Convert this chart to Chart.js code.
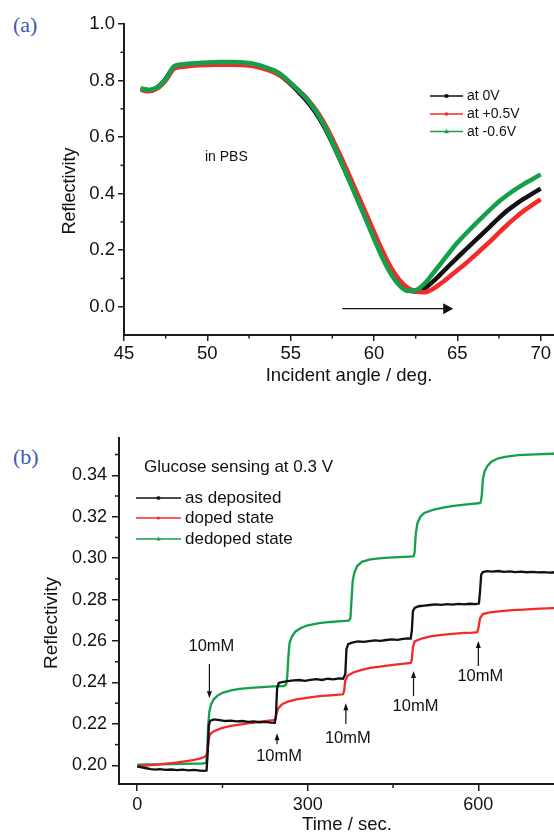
<!DOCTYPE html>
<html>
<head>
<meta charset="utf-8">
<script src="https://cdn.jsdelivr.net/npm/chart.js@4/dist/chart.umd.min.js"></script>
<style>
html,body{margin:0;padding:0;background:#fff;overflow:hidden;width:554px;height:834px;}
#ca{position:absolute;left:0;top:0;}
#cb{position:absolute;left:0;top:400px;}
.panel{position:absolute;font-family:"Liberation Serif","Times New Roman",serif;font-size:22px;line-height:22px;color:#3b5ca8;}
</style>
</head>
<body>
<div class="panel" style="left:13px;top:14px;">(a)</div>
<div class="panel" style="left:13px;top:446px;">(b)</div>
<canvas id="ca" width="600" height="400"></canvas>
<canvas id="cb" width="600" height="450"></canvas>
<script>
// ================= Panel (a): SPR curves =================
const angles = [46,46.5,47,47.5,48,48.5,49,49.5,50,50.5,
  51,51.5,52,52.5,53,53.5,54,54.5,55,55.5,
  56,56.5,57,57.5,58,58.5,59,59.5,60,60.5,
  61,61.5,62,62.5,63,63.5,64,64.5,65,65.5,
  66,66.5,67,67.5,68,68.5,69,69.5,70];
const reflect0V = [0.771,0.766,0.776,0.806,0.848,0.855,0.858,0.860,0.861,0.862,
  0.862,0.862,0.861,0.858,0.852,0.843,0.831,0.813,0.787,0.758,
  0.726,0.686,0.638,0.579,0.515,0.450,0.384,0.317,0.250,0.184,
  0.127,0.085,0.060,0.054,0.064,0.087,0.115,0.145,0.174,0.202,
  0.230,0.258,0.286,0.314,0.340,0.362,0.382,0.400,0.418];
const reflectPos05V = [0.767,0.762,0.772,0.800,0.842,0.849,0.852,0.854,0.855,0.856,
  0.856,0.856,0.855,0.853,0.848,0.840,0.829,0.813,0.790,0.764,
  0.735,0.697,0.651,0.594,0.532,0.467,0.400,0.333,0.265,0.199,
  0.140,0.097,0.068,0.055,0.051,0.062,0.082,0.105,0.129,0.153,
  0.179,0.206,0.233,0.262,0.290,0.316,0.340,0.360,0.380];
const reflectNeg06V = [0.772,0.767,0.776,0.805,0.850,0.857,0.860,0.862,0.864,0.865,
  0.866,0.866,0.865,0.862,0.856,0.847,0.836,0.818,0.792,0.764,
  0.733,0.692,0.643,0.582,0.516,0.448,0.379,0.310,0.240,0.173,
  0.117,0.077,0.056,0.058,0.080,0.115,0.152,0.190,0.226,0.258,
  0.288,0.317,0.345,0.372,0.395,0.416,0.434,0.451,0.468];
const aSeriesNames = ['at 0V', 'at +0.5V', 'at -0.6V'];
const aXTicks = [45, 50, 55, 60, 65, 70];
const aXMinor = [47.5, 52.5, 57.5, 62.5, 67.5];
const aYTicks = [0.0, 0.2, 0.4, 0.6, 0.8, 1.0];
const aYMinor = [0.1, 0.3, 0.5, 0.7, 0.9];
const aShiftArrow = [[58.1, -0.007], [64.75, -0.007]]; // angle, reflectivity
const aNote = 'in PBS';

// ================= Panel (b): glucose sensing =================
const asDeposited = [[0,0.1995],[8,0.1990],[16,0.1986],[24,0.1982],[32,0.1979],[40,0.1982],[50,0.1978],[60,0.1980],[70,0.1977],[80,0.1979],
  [90,0.1976],[100,0.1978],[110,0.1975],[118,0.1973],[122,0.1975],[124,0.2060],[126,0.2190],[128,0.2215],[135,0.2222],[145,0.2218],
  [155,0.2214],[165,0.2216],[175,0.2212],[185,0.2214],[195,0.2210],[205,0.2212],[215,0.2208],[225,0.2210],[235,0.2206],[242,0.2205],
  [244,0.2240],[246,0.2370],[249,0.2398],[255,0.2402],[265,0.2406],[275,0.2410],[285,0.2412],[295,0.2408],[305,0.2413],[315,0.2416],
  [325,0.2412],[335,0.2418],[345,0.2415],[355,0.2420],[362,0.2418],[366,0.2440],[368,0.2560],[371,0.2585],[378,0.2592],[388,0.2598],
  [398,0.2596],[408,0.2600],[418,0.2603],[428,0.2601],[438,0.2605],[448,0.2608],[458,0.2606],[468,0.2610],[476,0.2613],[481,0.2612],
  [483,0.2650],[485,0.2745],[488,0.2760],[495,0.2768],[505,0.2771],[515,0.2774],[525,0.2777],[535,0.2775],[545,0.2778],[555,0.2776],
  [565,0.2779],[575,0.2777],[585,0.2780],[595,0.2778],[601,0.2781],[603,0.2840],[605,0.2920],[608,0.2933],[615,0.2937],[625,0.2935],
  [635,0.2938],[645,0.2934],[655,0.2936],[665,0.2933],[675,0.2935],[685,0.2932],[695,0.2934],[705,0.2931],[715,0.2933],[725,0.2930],
  [735,0.2932],[745,0.2930],[755,0.2931]];
const dopedState = [[0,0.1995],[10,0.1998],[20,0.2000],[30,0.2003],[40,0.2005],[50,0.2008],[60,0.2011],[70,0.2014],[80,0.2018],[90,0.2022],
  [100,0.2027],[110,0.2033],[118,0.2040],[122,0.2050],[124,0.2080],[126,0.2130],[128,0.2150],[135,0.2165],[145,0.2176],[155,0.2184],
  [165,0.2190],[180,0.2197],[195,0.2203],[210,0.2208],[225,0.2213],[240,0.2218],[243,0.2222],[245,0.2250],[248,0.2275],[255,0.2295],
  [265,0.2308],[280,0.2318],[295,0.2325],[310,0.2330],[325,0.2335],[340,0.2338],[355,0.2341],[362,0.2343],[364,0.2360],[366,0.2410],
  [370,0.2432],[380,0.2448],[393,0.2460],[410,0.2470],[430,0.2478],[450,0.2485],[470,0.2491],[481,0.2494],[483,0.2510],[485,0.2570],
  [488,0.2598],[500,0.2612],[516,0.2622],[535,0.2630],[555,0.2635],[575,0.2639],[590,0.2641],[598,0.2643],[600,0.2660],[603,0.2710],
  [608,0.2730],[620,0.2738],[640,0.2744],[660,0.2749],[680,0.2752],[700,0.2755],[720,0.2758],[740,0.2760],[760,0.2761]];
const dedopedState = [[0,0.2003],[20,0.2004],[40,0.2005],[60,0.2006],[80,0.2007],[100,0.2008],[115,0.2009],[121,0.2012],[123,0.2060],[125,0.2200],
  [127,0.2260],[130,0.2295],[135,0.2320],[142,0.2338],[150,0.2350],[165,0.2362],[180,0.2369],[200,0.2374],[220,0.2378],[240,0.2381],
  [258,0.2383],[262,0.2390],[264,0.2430],[266,0.2530],[268,0.2590],[272,0.2622],[278,0.2645],[288,0.2663],[300,0.2676],[320,0.2686],
  [340,0.2692],[360,0.2696],[372,0.2698],[375,0.2710],[377,0.2800],[379,0.2890],[382,0.2930],[387,0.2962],[395,0.2982],[410,0.2994],
  [430,0.3000],[450,0.3004],[470,0.3006],[486,0.3008],[488,0.3030],[490,0.3120],[493,0.3170],[498,0.3200],[505,0.3218],[520,0.3233],
  [540,0.3245],[560,0.3254],[580,0.3260],[600,0.3265],[604,0.3268],[606,0.3300],[608,0.3380],[611,0.3420],[616,0.3445],[623,0.3466],
  [635,0.3482],[650,0.3490],[670,0.3497],[700,0.3501],[730,0.3504],[760,0.3506]];
const bSeriesNames = ['as deposited', 'doped state', 'dedoped state'];
const bTitle = 'Glucose sensing at 0.3 V';
const bXTicks = [0, 300, 600];
const bXMinor = [150, 450, 750];
const bYTicks = [0.20, 0.22, 0.24, 0.26, 0.28, 0.30, 0.32, 0.34];
const bYMinor = [0.21, 0.23, 0.25, 0.27, 0.29, 0.31, 0.33, 0.35];
// glucose additions: time, arrow tip, arrow tail, label reflectivity
const addTimes   = [127, 246, 367, 486, 600];
const addTips    = [0.2324, 0.2155, 0.2300, 0.2455, 0.2600];
const addTails   = [0.2489, 0.2102, 0.2199, 0.2334, 0.2479];
const addLabelsR = [0.2576, 0.2044, 0.2131, 0.2286, 0.2431];
const addLabel = '10mM';
const yTitle = 'Reflectivity';

// ================= styling =================
const FONT = '"Liberation Sans", Arial, Helvetica, sans-serif';
const AXIS = '#1c1c1c';
const BLACK = '#111111', RED = '#f22a2a', GREEN = '#14a04a';

function minorTicks(ctx, chart, xs, ys, len) {
  const {x, y} = chart.scales; const ca = chart.chartArea;
  ctx.strokeStyle = AXIS; ctx.lineWidth = 1.5;
  xs.forEach(v => { const p = x.getPixelForValue(v); if (p < ca.left || p > ca.right) return;
    ctx.beginPath(); ctx.moveTo(p, ca.bottom); ctx.lineTo(p, ca.bottom + len); ctx.stroke(); });
  ys.forEach(v => { const p = y.getPixelForValue(v); if (p < ca.top - 1 || p > ca.bottom) return;
    ctx.beginPath(); ctx.moveTo(ca.left, p); ctx.lineTo(ca.left - len, p); ctx.stroke(); });
}
function marker(ctx, kind, cx, cy, color, s) {
  ctx.fillStyle = color;
  if (kind === 'square') ctx.fillRect(cx - s, cy - s, 2 * s, 2 * s);
  else if (kind === 'circle') { ctx.beginPath(); ctx.arc(cx, cy, s, 0, Math.PI * 2); ctx.fill(); }
  else { ctx.beginPath(); ctx.moveTo(cx, cy - s - 1); ctx.lineTo(cx + s + 0.5, cy + s); ctx.lineTo(cx - s - 0.5, cy + s); ctx.closePath(); ctx.fill(); }
}
function legendRows(ctx, x0, x1, tx, ys, names, colors, kinds, font, lw, ms) {
  ctx.font = font; ctx.textAlign = 'left'; ctx.textBaseline = 'middle';
  names.forEach((n, i) => {
    ctx.strokeStyle = colors[i]; ctx.lineWidth = lw;
    ctx.beginPath(); ctx.moveTo(x0, ys[i]); ctx.lineTo(x1, ys[i]); ctx.stroke();
    marker(ctx, kinds[i], (x0 + x1) / 2, ys[i], colors[i], ms);
    ctx.fillStyle = '#111'; ctx.fillText(n, tx, ys[i] + 0.5);
  });
}
function verticalTitle(ctx, text, cx, cy, size) {
  ctx.save();
  ctx.translate(cx, cy); ctx.rotate(-Math.PI / 2);
  ctx.font = size + 'px ' + FONT; ctx.fillStyle = '#111';
  ctx.textAlign = 'center'; ctx.textBaseline = 'middle';
  ctx.fillText(text, 0, 0);
  ctx.restore();
}

function axisCommon(ticksArr, fmt, tickLen, pad, size, fitKey, fitVal, title, titleSize, titlePad, min, max) {
  return {
    type: 'linear', min: min, max: max,
    afterBuildTicks: s => { s.ticks = ticksArr.map(v => ({value: v})); },
    afterFit: s => { s[fitKey] = fitVal; },
    ticks: { callback: v => v.toFixed(fmt), color: '#111', padding: pad, font: {family: FONT, size: size}, maxRotation: 0, autoSkip: false, includeBounds: false },
    grid: { display: true, drawOnChartArea: false, drawTicks: true, tickLength: tickLen, color: AXIS, lineWidth: 1.5 },
    border: { display: true, color: AXIS, width: 2 },
    title: { display: !!title, text: title || '', color: '#111', font: {family: FONT, size: titleSize}, padding: titlePad }
  };
}

// ---------- chart (a) ----------
new Chart(document.getElementById('ca'), {
  type: 'line',
  data: {
    labels: angles,
    datasets: [
      {label: aSeriesNames[0], data: angles.map((a, i) => ({x: a, y: reflect0V[i]})), borderColor: BLACK, order: 2},
      {label: aSeriesNames[1], data: angles.map((a, i) => ({x: a, y: reflectPos05V[i]})), borderColor: RED, order: 1},
      {label: aSeriesNames[2], data: angles.map((a, i) => ({x: a, y: reflectNeg06V[i]})), borderColor: GREEN, order: 0}
    ].map(d => Object.assign(d, {borderWidth: 4.5, pointRadius: 0, cubicInterpolationMode: 'monotone', fill: false}))
  },
  options: {
    responsive: false, animation: false, events: [],
    layout: { padding: {left: 0, top: 24, right: 26, bottom: 0} },
    plugins: { legend: {display: false}, tooltip: {enabled: false} },
    scales: {
      x: axisCommon(aXTicks, 0, 6, 2, 18.5, 'height', 65, 'Incident angle / deg.', 18.5, {top: 0, bottom: 13}, 45, 72),
      y: axisCommon(aYTicks, 1, 6, 3, 18.5, 'width', 124, null, 18.5, 0, -0.1, 1.0)
    }
  },
  plugins: [{
    id: 'extrasA',
    afterDraw(chart) {
      const ctx = chart.ctx, ca = chart.chartArea, {x, y} = chart.scales;
      ctx.save();
      minorTicks(ctx, chart, aXMinor, aYMinor, 3.5);
      verticalTitle(ctx, yTitle, 70, ca.top + 167, 18);
      // shift arrow
      const x0 = x.getPixelForValue(aShiftArrow[0][0]), x1 = x.getPixelForValue(aShiftArrow[1][0]);
      const yy = y.getPixelForValue(aShiftArrow[0][1]);
      ctx.strokeStyle = '#111'; ctx.lineWidth = 1.3;
      ctx.beginPath(); ctx.moveTo(x0, yy); ctx.lineTo(x1 - 8, yy); ctx.stroke();
      ctx.fillStyle = '#111';
      ctx.beginPath(); ctx.moveTo(x1, yy); ctx.lineTo(x1 - 10, yy - 5.5); ctx.lineTo(x1 - 10, yy + 5.5); ctx.closePath(); ctx.fill();
      // note
      ctx.font = '14px ' + FONT; ctx.fillStyle = '#111'; ctx.textAlign = 'left'; ctx.textBaseline = 'middle';
      ctx.fillText(aNote, ca.left + 81, ca.top + 133);
      // legend
      const ly = [ca.top + 72, ca.top + 90, ca.top + 107.5];
      legendRows(ctx, ca.left + 306, ca.left + 339, ca.left + 343, ly, aSeriesNames, [BLACK, RED, GREEN],
        ['square', 'circle', 'triangle'], '14px ' + FONT, 1.4, 1.8);
      ctx.restore();
    }
  }]
});

// ---------- chart (b) ----------
const toXY = arr => arr.map(p => ({x: p[0], y: p[1]}));
new Chart(document.getElementById('cb'), {
  type: 'line',
  data: {
    datasets: [
      {label: bSeriesNames[0], data: toXY(asDeposited), borderColor: BLACK, order: 0},
      {label: bSeriesNames[1], data: toXY(dopedState), borderColor: RED, order: 1},
      {label: bSeriesNames[2], data: toXY(dedopedState), borderColor: GREEN, order: 2}
    ].map(d => Object.assign(d, {borderWidth: 2.3, pointRadius: 0, tension: 0, fill: false}))
  },
  options: {
    responsive: false, animation: false, events: [],
    layout: { padding: {left: 0, top: 38, right: 25, bottom: 0} },
    plugins: { legend: {display: false}, tooltip: {enabled: false} },
    scales: {
      x: axisCommon(bXTicks, 0, 7, 3, 18, 'height', 66, 'Time / sec.', 18.5, {top: 0, bottom: 14}, -32, 770),
      y: axisCommon(bYTicks, 2, 7, 5, 18, 'width', 119, null, 18.5, 0, 0.191, 0.358)
    }
  },
  plugins: [{
    id: 'extrasB',
    afterDraw(chart) {
      const ctx = chart.ctx, ca = chart.chartArea, {x, y} = chart.scales;
      ctx.save();
      minorTicks(ctx, chart, bXMinor, bYMinor, 4);
      verticalTitle(ctx, yTitle, 52, ca.top + 185, 19);
      // glucose addition arrows
      ctx.strokeStyle = '#111'; ctx.fillStyle = '#111'; ctx.lineWidth = 1.2;
      ctx.font = '16.5px ' + FONT; ctx.textAlign = 'center'; ctx.textBaseline = 'middle';
      addTimes.forEach((t, i) => {
        const px = x.getPixelForValue(t), tip = y.getPixelForValue(addTips[i]), tail = y.getPixelForValue(addTails[i]);
        const dir = tip > tail ? 1 : -1;
        ctx.beginPath(); ctx.moveTo(px, tail); ctx.lineTo(px, tip - dir * 5); ctx.stroke();
        ctx.beginPath(); ctx.moveTo(px, tip); ctx.lineTo(px - 2.5, tip - dir * 7); ctx.lineTo(px + 2.5, tip - dir * 7); ctx.closePath(); ctx.fill();
        ctx.fillText(addLabel, px + 2, y.getPixelForValue(addLabelsR[i]));
      });
      // title + legend
      ctx.font = '17px ' + FONT; ctx.textAlign = 'left'; ctx.textBaseline = 'middle'; ctx.fillStyle = '#111';
      ctx.fillText(bTitle, ca.left + 25, ca.top + 29);
      const ly = [ca.top + 60, ca.top + 80, ca.top + 101];
      legendRows(ctx, ca.left + 17, ca.left + 62, ca.left + 66, ly, bSeriesNames, [BLACK, RED, GREEN],
        ['square', 'circle', 'triangle'], '17px ' + FONT, 1.4, 1.6);
      ctx.restore();
    }
  }]
});
</script>
</body>
</html>
